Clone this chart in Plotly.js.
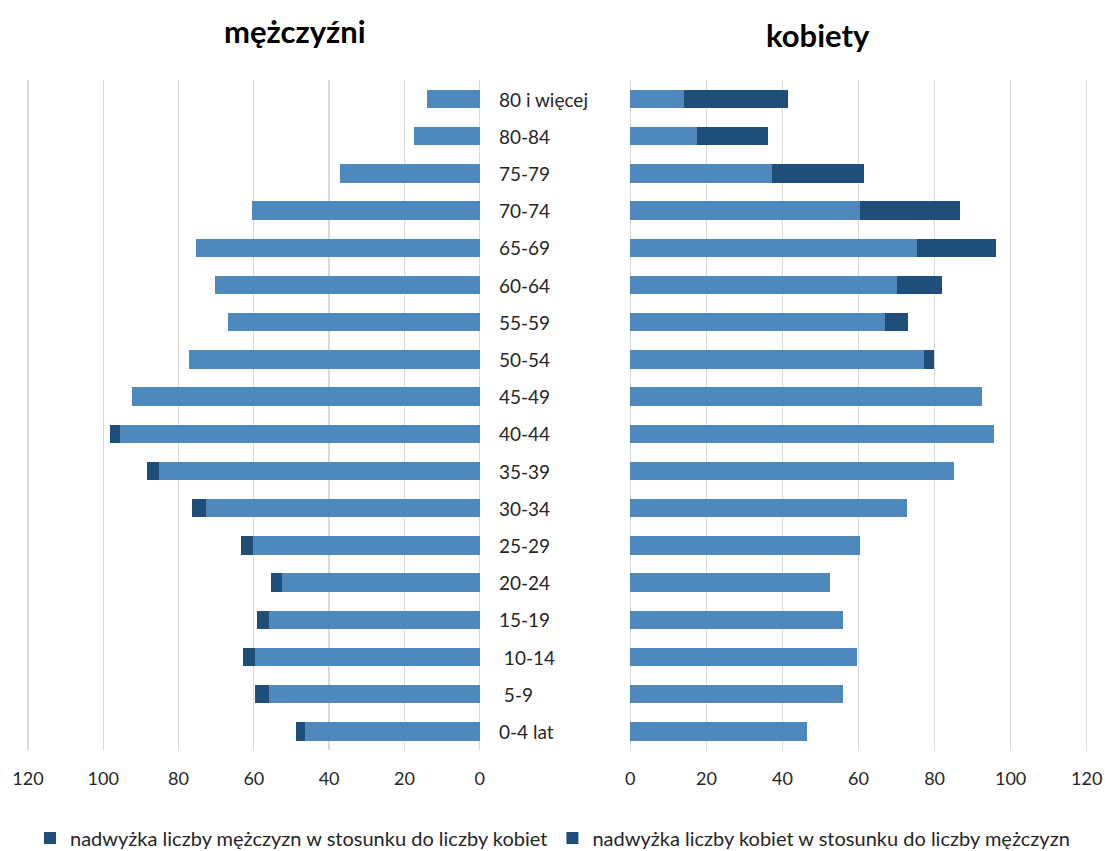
<!DOCTYPE html>
<html>
<head>
<meta charset="utf-8">
<script src="https://cdn.plot.ly/plotly-3.0.1.min.js"></script>
<style>
html,body{margin:0;padding:0;background:#fff;}
#chart{width:1105px;height:851px;}
</style>
</head>
<body>
<div id="chart"></div>
<script>
// Age groups, listed from bottom to top of the pyramid
const ageGroups = ['0-4 lat', '\u00a05-9', '\u00a010-14', '15-19', '20-24', '25-29', '30-34', '35-39', '40-44',
  '45-49', '50-54', '55-59', '60-64', '65-69', '70-74', '75-79', '80-84', '80 i więcej'];

// Common part (smaller of the two sexes) – light blue, drawn on both sides
const commonPart = [46.5, 56.0, 59.6, 55.9, 52.6, 60.3, 72.7, 85.1, 95.6,
  92.4, 77.2, 66.9, 70.2, 75.5, 60.4, 37.2, 17.5, 14.1];

// Excess of men over women – dark blue on the men side
const menExcess = [2.2, 3.6, 3.3, 3.2, 2.8, 3.0, 3.8, 3.4, 2.7,
  0, 0, 0, 0, 0, 0, 0, 0, 0];

// Excess of women over men – dark blue on the women side
const womenExcess = [0, 0, 0, 0, 0, 0, 0, 0, 0,
  0, 2.7, 6.1, 11.7, 20.7, 26.4, 24.3, 18.7, 27.4];

const xTicks = [0, 20, 40, 60, 80, 100, 120];

const lightBlue = '#4F88BD';
const darkBlue = '#1F4E79';
const fontFam = 'Lato, "Open Sans", "Noto Sans", sans-serif';

const traces = [
  {type: 'bar', orientation: 'h', y: ageGroups, x: commonPart, xaxis: 'x', yaxis: 'y',
   marker: {color: lightBlue}, showlegend: false, hoverinfo: 'x+y'},
  {type: 'bar', orientation: 'h', y: ageGroups, x: menExcess, xaxis: 'x', yaxis: 'y',
   marker: {color: darkBlue}, name: 'nadwyżka liczby mężczyzn w stosunku do liczby kobiet'},
  {type: 'bar', orientation: 'h', y: ageGroups, x: commonPart, xaxis: 'x2', yaxis: 'y2',
   marker: {color: lightBlue}, showlegend: false, hoverinfo: 'x+y'},
  {type: 'bar', orientation: 'h', y: ageGroups, x: womenExcess, xaxis: 'x2', yaxis: 'y2',
   marker: {color: darkBlue}, name: 'nadwyżka liczby kobiet w stosunku do liczby mężczyzn'}
];

const W = 1105, H = 851;
const yDom = [101 / H, 1 - 80.4 / H];

const annotations = ageGroups.map(a => ({
  text: a, xref: 'paper', x: 497 / W, xanchor: 'left', yref: 'y', y: a, yanchor: 'middle',
  showarrow: false, font: {family: fontFam, size: 19, color: '#262626'}
}));
annotations.push({text: '<b>mężczyźni</b>', xref: 'paper', yref: 'paper', x: 295 / W, y: 1 - 31 / H,
  xanchor: 'center', yanchor: 'middle', showarrow: false, font: {family: fontFam, size: 31, color: '#000'}});
annotations.push({text: '<b>kobiety</b>', xref: 'paper', yref: 'paper', x: 818 / W, y: 1 - 35 / H,
  xanchor: 'center', yanchor: 'middle', showarrow: false, font: {family: fontFam, size: 31, color: '#000'}});

const axisCommon = {
  tickvals: xTicks, ticktext: xTicks.map(String), showgrid: true, gridcolor: '#D9D9D9', gridwidth: 1.3,
  zeroline: false, showline: false, ticks: '', fixedrange: true, ticklabelstandoff: 16,
  tickfont: {family: fontFam, size: 18, color: '#262626'}
};

const layout = {
  width: W, height: H,
  margin: {l: 0, r: 0, t: 0, b: 0, autoexpand: false},
  paper_bgcolor: '#fff', plot_bgcolor: 'rgba(0,0,0,0)',
  barmode: 'stack', bargap: 0.51,
  showlegend: true,
  legend: {orientation: 'h', x: 0.5, xanchor: 'center', y: 1 - 838 / H, yanchor: 'middle',
    font: {family: fontFam, size: 20, color: '#262626'}, traceorder: 'normal', itemwidth: 30},
  xaxis: Object.assign({}, axisCommon, {domain: [26.5 / W, 480.8 / W], range: [120.4, -0.3], anchor: 'y'}),
  xaxis2: Object.assign({}, axisCommon, {domain: [629.2 / W, 1088.2 / W], range: [-0.3, 120.4], anchor: 'y2'}),
  yaxis: {domain: yDom, type: 'category', categoryorder: 'array', categoryarray: ageGroups,
    showticklabels: false, showgrid: false, zeroline: false, anchor: 'x', fixedrange: true},
  yaxis2: {domain: yDom, type: 'category', categoryorder: 'array', categoryarray: ageGroups,
    showticklabels: false, showgrid: false, zeroline: false, anchor: 'x2', fixedrange: true},
  annotations: annotations
};

Plotly.newPlot('chart', traces, layout, {displayModeBar: false, staticPlot: true});
</script>
</body>
</html>
